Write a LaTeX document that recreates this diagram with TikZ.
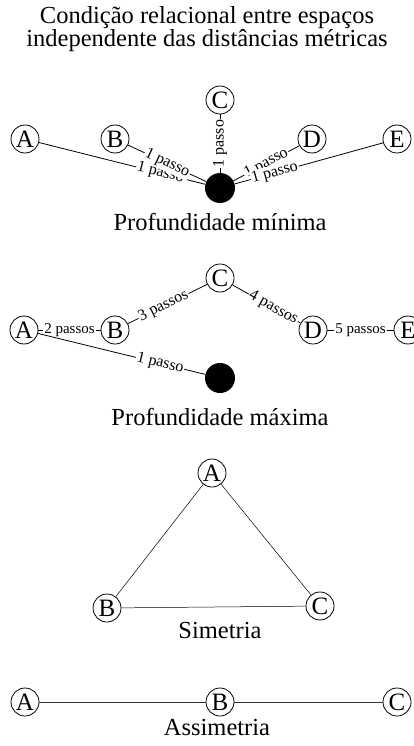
\documentclass[tikz,border=0pt]{standalone}
\usepackage{fontspec}
\setmainfont{Liberation Serif}
\begin{document}
\begin{tikzpicture}[x=1pt,y=-1pt,
  place/.style={circle,draw,line width=0.8pt,minimum size=28pt,inner sep=0pt,font=\fontsize{25}{25}\selectfont},
  dot/.style={circle,fill=black,minimum size=30pt,inner sep=0pt},
  edge/.style={line width=0.8pt},
  lab/.style={fill=white,inner sep=1pt,font=\fontsize{15}{15}\selectfont},
  slab/.style={lab,sloped,font=\fontsize{16}{16}\selectfont},
  captext/.style={font=\fontsize{24.5}{23}\selectfont}]
\useasboundingbox (0,0) rectangle (413,746);
% title
\node[captext,align=center] (title) at (207,29) {Condição relacional entre espaços\\independente das distâncias métricas};
% section 1
\node[place] (a1) at (25,139) {A};
\node[place] (b1) at (115,139) {B};
\node[place] (c1) at (220,100) {C};
\node[place] (d1) at (312,139) {D};
\node[place] (e1) at (397,139) {E};
\node[dot] (x1) at (220,188) {};
\draw[edge] (a1) -- node[slab,pos=0.73] {1 passo} (x1);
\draw[edge] (b1) -- node[slab,pos=0.5] {1 passo} (x1);
\draw[edge] (x1) -- node[slab,pos=0.5] {1 passo} (c1);
\draw[edge] (d1) -- node[slab,pos=0.5] {1 passo} (x1);
\draw[edge] (e1) -- node[slab,pos=0.73] {1 passo} (x1);
\node[captext] (t1) at (220,222) {Profundidade mínima};
% section 2
\node[place] (a2) at (24,330) {A};
\node[place] (b2) at (115,330) {B};
\node[place] (c2) at (220,278) {C};
\node[place] (d2) at (313,330) {D};
\node[place] (e2) at (408,330) {E};
\node[dot] (x2) at (220,378) {};
\draw[edge] (a2) -- node[lab,pos=0.5] {2 passos} (b2);
\draw[edge] (b2) -- node[slab,pos=0.45] {3 passos} (c2);
\draw[edge] (c2) -- node[slab,pos=0.6] {4 passos} (d2);
\draw[edge] (d2) -- node[lab,pos=0.5] {5 passos} (e2);
\draw[edge] (a2) -- node[slab,pos=0.73] {1 passo} (x2);
\node[captext] (t2) at (220,417) {Profundidade máxima};
% simetria
\node[place] (a3) at (212,473) {A};
\node[place] (b3) at (107,608) {B};
\node[place] (c3) at (320,606) {C};
\draw[line width=0.5pt] (a3) -- (b3);
\draw[line width=0.5pt] (a3) -- (c3);
\draw[line width=0.5pt] (b3) -- (c3);
\node[captext] (t3) at (220,631) {Simetria};
% assimetria
\node[place] (a4) at (25,702) {A};
\node[place] (b4) at (220,702) {B};
\node[place] (c4) at (397,702) {C};
\draw[line width=0.6pt,black!80] (a4) -- (b4);
\draw[line width=0.6pt,black!80] (b4) -- (c4);
\node[captext] (t4) at (217,727) {Assimetria};
\end{tikzpicture}
\end{document}
